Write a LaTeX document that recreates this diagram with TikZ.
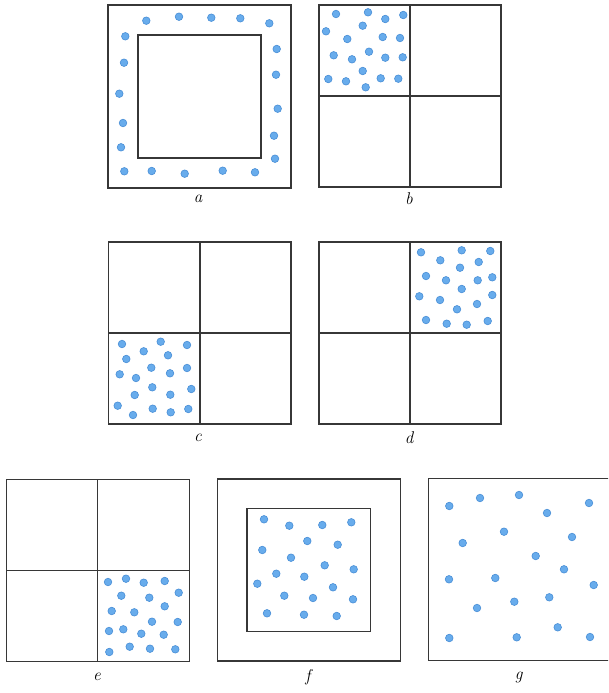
\documentclass[tikz,border=0pt]{standalone}
\begin{document}
\begin{tikzpicture}[x=1pt,y=-1pt,
  box/.style={draw={rgb,255:red,55;green,55;blue,55},line width=1.4pt},
  dot/.style={circle,inner sep=0pt,minimum size=7.6pt,fill={rgb,255:red,104;green,172;blue,236},draw={rgb,255:red,72;green,142;blue,214},line width=0.6pt},
  lab/.style={font=\fontsize{17}{20}\selectfont\itshape}]
\useasboundingbox (0,0) rectangle (608,693);
\clip (0,0) rectangle (608,693);
% panel a
\draw[box] (108,5) rectangle (291,188);
\draw[box] (138,35) rectangle (261,158);
\node[lab] (la) at (198,199) {a};
\foreach \x/\y [count=\i] in {146.3/20.7,179/16.7,211.3/17.7,240.3/18.3,269.3/23.3,125.3/36.3,276.7/49,124/62.7,276/74.7,119.3/93.7,277.7/108.7,123/123,274/135.7,121/147.3,275/158.7,124.3/171.3,151.7/171,184.7/173.7,222.7/170.7,255/172.3}
  \node[dot] (a\i) at (\x,\y) {};
% panel b
\draw[box] (319,5) rectangle (501,187);
\draw[box] (410,5) -- (410,187);
\draw[box] (319,96) -- (501,96);
\node[lab] (lb) at (409,199) {b};
\foreach \x/\y [count=\i] in {336/14,368/12.3,385.3/19,403.3/15,326/31.3,362.7/25.7,347.3/39,382.7/37,400/38,333.7/55.3,369/51.7,352/59.3,385.3/57.7,402.7/57.3,362.7/71,328.3/79,346/81.3,380.7/78.3,398.3/78.7,365.7/87.3}
  \node[dot] (b\i) at (\x,\y) {};
% panel c
\draw[box] (108.5,242) rectangle (291,424);
\draw[box] (200,242) -- (200,424);
\draw[box] (108.5,333) -- (291,333);
\node[lab] (lc) at (198,438) {c};
\foreach \x/\y [count=\i] in {122/344,160.7/341.7,187/345,143.7/351.3,126.3/359,168/355.3,151.3/367.7,187/368,119.7/374.3,136/378,170/373.3,152.3/387.3,191.3/389,134.7/395,170.3/394.7,117.7/405.7,152.7/408.7,170.7/412.3,188.3/409,133/415}
  \node[dot] (c\i) at (\x,\y) {};
% panel d
\draw[box] (319,242) rectangle (501,424);
\draw[box] (410,242) -- (410,424);
\draw[box] (319,333) -- (501,333);
\node[lab] (ld) at (409,438) {d};
\foreach \x/\y [count=\i] in {421/252.3,461.7/250.3,490.3/251,440.3/260.3,478.7/262,460/267.7,426/276,446/280.3,477.7/280.3,492.3/277.3,461.7/289,419.3/296.3,440/300,492.3/295,477/304,457/309.3,426/320,446.7/323.7,466.7/324.7,487.7/321}
  \node[dot] (d\i) at (\x,\y) {};
% panel e
\draw[box] (6.5,479.5) rectangle (189.5,661.5);
\draw[box] (97.7,479.5) -- (97.7,661.5);
\draw[box] (6.5,570.3) -- (189.5,570.3);
\node[lab] (le) at (97,677) {e};
\foreach \x/\y [count=\i] in {108/582,126/578.7,143.7/582.7,164.7/581,178.7/592.7,121.3/595.7,149.3/597.7,164.7/606.3,111.7/611,134.3/612.3,152/621.7,177.7/622,109/631,123.3/629.3,141.3/633.7,163.7/634.7,109.3/652,129.7/646.7,150/648.7,175.3/649.3}
  \node[dot] (e\i) at (\x,\y) {};
% panel f
\draw[box] (217.5,479) rectangle (400.3,661);
\draw[box] (247,508.5) rectangle (370.3,631.7);
\node[lab] (lf) at (308,677) {f};
\foreach \x/\y [count=\i] in {264/519.3,289.3/525.7,322.3/525,351.3/522.3,307.3/541,337.7/544.7,262.3/550,291/557.7,324.7/565.3,353.7/569.3,276.3/573.7,304.3/576.7,257.3/583.7,333/587.3,284.3/595.7,313/598,353/599.3,267/613.3,304/614.7,336.7/616}
  \node[dot] (f\i) at (\x,\y) {};
% panel g
\draw[box] (428.5,478.5) rectangle (612,660.7);
\node[lab] (lg) at (518.7,677) {g};
\foreach \x/\y [count=\i] in {449.3/506,480/498,519/495,547/513,589/503,504/531.7,462.7/543,572/537,535.7/556,564/569.3,449/579.3,495.3/578,593.7/585,549.3/597.3,514.3/601.7,477/608,557.7/627.3,449.3/638,516.7/637.3,590/637}
  \node[dot] (g\i) at (\x,\y) {};
\end{tikzpicture}
\end{document}
